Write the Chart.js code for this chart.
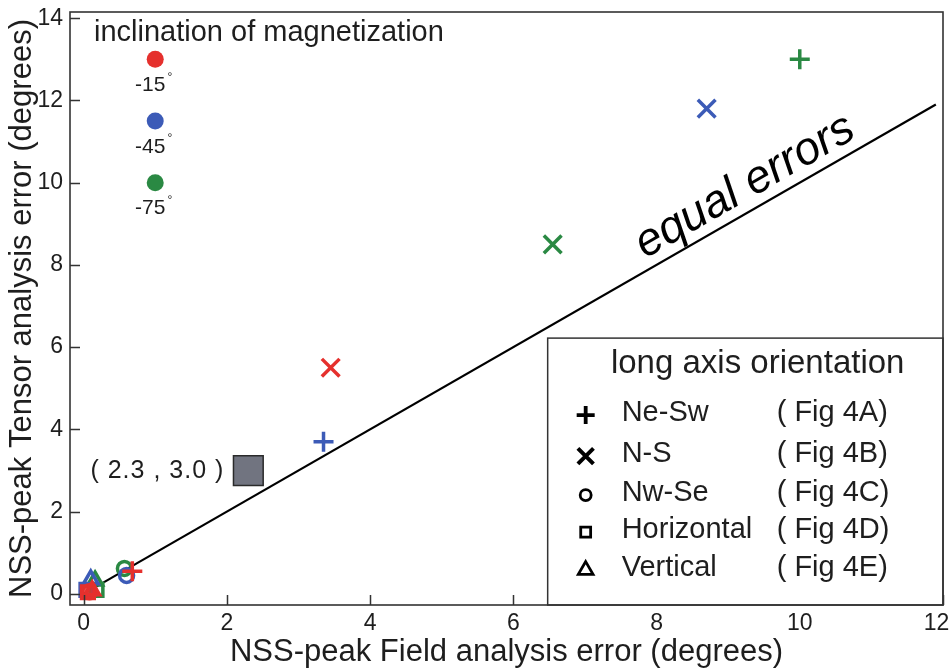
<!DOCTYPE html>
<html>
<head>
<meta charset="utf-8">
<script src="https://cdn.jsdelivr.net/npm/chart.js@4/dist/chart.umd.min.js"></script>
<style>
  html, body { margin: 0; padding: 0; background: #ffffff; }
  #wrap { width: 952px; height: 671px; position: relative; }
  canvas { display: block; }
</style>
</head>
<body>
<div id="wrap"><canvas id="chart" width="952" height="671"></canvas></div>
<script>
// ---- values ----
const xTickValues = [0, 2, 4, 6, 8, 10, 12];
const yTickValues = [0, 2, 4, 6, 8, 10, 12, 14];
const orientationNames = ['Ne-Sw', 'N-S', 'Nw-Se', 'Horizontal', 'Vertical'];
const figureRefs = ['( Fig 4A)', '( Fig 4B)', '( Fig 4C)', '( Fig 4D)', '( Fig 4E)'];
const inclinationLabels = ['-15', '-45', '-75'];

// field error (x) / tensor error (y), one entry per orientation in orientationNames order
const fieldErr15  = [0.68, 3.45, 0.08, 0.06, 0.12];
const tensorErr15 = [0.55, 5.5, 0.05, 0.04, 0.08];
const fieldErr45  = [3.35, 8.7, 0.6, 0.04, 0.1];
const tensorErr45 = [3.7, 11.8, 0.45, 0.1, 0.35];
const fieldErr75  = [10.0, 6.55, 0.57, 0.18, 0.16];
const tensorErr75 = [13.0, 8.5, 0.62, 0.1, 0.32];

const highlightField  = [2.3];
const highlightTensor = [3.0];
const highlightLabel  = '( 2.3 , 3.0 )';

const equalLine = [0, 11.9];

const keyField  = [1, 1, 1];
const keyTensor = [13, 11.5, 10];

// ---- styles ----
const RED = '#e5302d', BLUE = '#3c5bb7', GREEN = '#2a8943';
const INK = '#1e1e1e';
const SHAPES = ['cross', 'crossRot', 'circle', 'rect', 'triangle'];
const SHAPE_R = [10, 12.5, 7, 9, 8.5];
const FONT = '"Liberation Sans", Arial, Helvetica, sans-serif';

const pts = (xs, ys) => xs.map((v, i) => ({ x: v, y: ys[i] }));

const markerSet = (label, xs, ys, color, order, fill) => ({
  label,
  data: pts(xs, ys),
  pointStyle: SHAPES,
  pointRadius: SHAPE_R,
  pointBorderWidth: 3.5,
  borderColor: color,
  pointBorderColor: color,
  pointBackgroundColor: fill || 'rgba(0,0,0,0)',
  showLine: false,
  order
});

const decorations = {
  id: 'decorations',
  afterDatasetsDraw(chart) {
    const { ctx, chartArea: a, scales: { x, y } } = chart;
    ctx.save();

    // inward tick marks
    ctx.strokeStyle = '#333';
    ctx.lineWidth = 1.5;
    ctx.beginPath();
    xTickValues.forEach(v => {
      const px = Math.round(x.getPixelForValue(v)) + 0.5;
      ctx.moveTo(px, a.bottom); ctx.lineTo(px, a.bottom - 10);
    });
    yTickValues.forEach(v => {
      const py = Math.round(y.getPixelForValue(v)) + 0.5;
      ctx.moveTo(a.left, py); ctx.lineTo(a.left + 10, py);
    });
    ctx.stroke();

    // "equal errors" label along the diagonal
    const p0 = { x: x.getPixelForValue(equalLine[0]), y: y.getPixelForValue(equalLine[0]) };
    const p1 = { x: x.getPixelForValue(equalLine[1]), y: y.getPixelForValue(equalLine[1]) };
    const ang = Math.atan2(p1.y - p0.y, p1.x - p0.x);
    const t = 0.79;
    const mx = p0.x + (p1.x - p0.x) * t, my = p0.y + (p1.y - p0.y) * t;
    ctx.save();
    ctx.translate(mx, my);
    ctx.rotate(ang);
    ctx.fillStyle = '#000';
    ctx.font = 'italic 46px ' + FONT;
    ctx.textAlign = 'center';
    ctx.textBaseline = 'alphabetic';
    ctx.fillText('equal errors', 0, -11);
    ctx.restore();

    // highlighted point label
    const hMeta = chart.getDatasetMeta(4).data[0];
    ctx.fillStyle = INK;
    ctx.font = '25px ' + FONT;
    ctx.textAlign = 'right';
    ctx.textBaseline = 'middle';
    if ('letterSpacing' in ctx) ctx.letterSpacing = '1px';
    ctx.fillText(highlightLabel, hMeta.x - 24, hMeta.y + 1);
    if ('letterSpacing' in ctx) ctx.letterSpacing = '0px';

    // inclination key
    ctx.font = '29px ' + FONT;
    ctx.textAlign = 'left';
    ctx.textBaseline = 'middle';
    ctx.fillText('inclination of magnetization', a.left + 24, y.getPixelForValue(13.65));
    const kMeta = chart.getDatasetMeta(5).data;
    kMeta.forEach((el, i) => {
      ctx.font = '21px ' + FONT;
      ctx.textAlign = 'center';
      ctx.textBaseline = 'middle';
      const w = ctx.measureText(inclinationLabels[i]).width;
      const cx = el.x - 5;
      ctx.fillText(inclinationLabels[i], cx, el.y + 26);
      ctx.font = '12px ' + FONT;
      ctx.textAlign = 'left';
      ctx.fillText('°', cx + w / 2 + 2, el.y + 18);
    });

    // orientation legend box
    const bx = x.getPixelForValue(6.48), by = y.getPixelForValue(6.22);
    ctx.fillStyle = '#fff';
    ctx.fillRect(bx, by, a.right - bx, a.bottom - by);
    ctx.strokeStyle = '#333';
    ctx.lineWidth = 1.5;
    ctx.strokeRect(bx, by, a.right - bx, a.bottom - by);
    ctx.fillStyle = INK;
    ctx.font = '33px ' + FONT;
    ctx.textAlign = 'center';
    ctx.textBaseline = 'middle';
    ctx.fillText('long axis orientation', bx + 210, by + 26);
    const rowY = [75, 116, 155, 192, 230];
    const legendR = [9, 11, 5.5, 7, 8.5];
    const legendW = [3.8, 4, 2.8, 2.8, 2.8];
    orientationNames.forEach((name, i) => {
      const ry = by + rowY[i];
      ctx.strokeStyle = '#000';
      ctx.fillStyle = '#fff';
      ctx.lineWidth = legendW[i];
      Chart.helpers.drawPoint(ctx, { pointStyle: SHAPES[i], radius: legendR[i], rotation: 0, borderWidth: legendW[i] }, bx + 38, ry + 2);
      ctx.fillStyle = INK;
      ctx.font = '29px ' + FONT;
      ctx.textAlign = 'left';
      ctx.textBaseline = 'middle';
      ctx.fillText(name, bx + 74, ry);
      ctx.fillText(figureRefs[i], bx + 229, ry);
    });

    // plot frame
    ctx.strokeStyle = '#333';
    ctx.lineWidth = 1.6;
    ctx.strokeRect(a.left, a.top, a.right - a.left, a.bottom - a.top);
    ctx.restore();
  }
};

const tickFont = { family: FONT, size: 23 };
const titleFont = { family: FONT, size: 31 };

new Chart(document.getElementById('chart'), {
  type: 'scatter',
  data: {
    datasets: [
      { label: 'equal errors', data: pts(equalLine, equalLine), showLine: true,
        borderColor: '#000', borderWidth: 2.2, pointRadius: 0, fill: false, order: 6 },
      markerSet('-75', fieldErr75, tensorErr75, GREEN, 5),
      markerSet('-45', fieldErr45, tensorErr45, BLUE, 4),
      markerSet('-15', fieldErr15, tensorErr15, RED, 3,
        ['rgba(0,0,0,0)', 'rgba(0,0,0,0)', 'rgba(0,0,0,0)', 'rgba(229,48,45,0.85)', 'rgba(0,0,0,0)']),
      { label: 'highlight', data: pts(highlightField, highlightTensor), pointStyle: 'rect',
        pointRadius: 21, pointBackgroundColor: '#717480', pointBorderColor: '#2a2a2a',
        pointBorderWidth: 1.5, order: 2 },
      { label: 'inclination', data: pts(keyField, keyTensor), pointStyle: 'circle',
        pointRadius: 8.5, pointBackgroundColor: [RED, BLUE, GREEN], pointBorderWidth: 0, order: 1 }
    ]
  },
  options: {
    responsive: false,
    animation: false,
    clip: false,
    devicePixelRatio: 1,
    layout: { autoPadding: false, padding: { top: 12, right: 9, left: 0, bottom: 0 } },
    plugins: { legend: { display: false }, tooltip: { enabled: false } },
    scales: {
      x: {
        type: 'linear', min: -0.19, max: 12,
        afterBuildTicks: s => { s.ticks = xTickValues.map(v => ({ value: v })); },
        afterFit: s => { s.height = 66; s.paddingLeft = 0; s.paddingRight = 0; },
        grid: { display: false, drawTicks: false },
        border: { display: false },
        ticks: {
          font: tickFont, color: INK, padding: 5, maxRotation: 0,
          // keep the last label inside the canvas edge
          callback: v => (v === xTickValues[xTickValues.length - 1] ? v + '\u2007' : String(v))
        },
        title: { display: true, text: 'NSS-peak Field analysis error (degrees)',
                 font: titleFont, color: INK, padding: { top: 0, bottom: 0 } }
      },
      y: {
        type: 'linear', min: -0.27, max: 14.15,
        afterBuildTicks: s => { s.ticks = yTickValues.map(v => ({ value: v })); },
        afterFit: s => { s.width = 70; s.paddingTop = 0; s.paddingBottom = 0; },
        grid: { display: false, drawTicks: false },
        border: { display: false },
        ticks: { font: tickFont, color: INK, padding: 7 },
        title: { display: true, text: 'NSS-peak Tensor analysis error (degrees)',
                 font: titleFont, color: INK, padding: { top: 4, bottom: 0 } }
      }
    }
  },
  plugins: [decorations]
});
</script>
</body>
</html>
